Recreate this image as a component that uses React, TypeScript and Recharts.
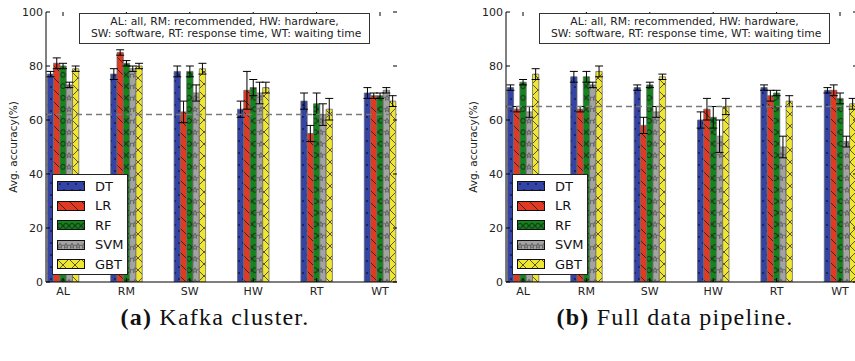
import React from 'react';
import { BarChart, Bar, XAxis, YAxis, ErrorBar, ReferenceLine, Legend } from 'recharts';

const categories = ['AL', 'RM', 'SW', 'HW', 'RT', 'WT'];
const seriesNames = ['DT', 'LR', 'RF', 'SVM', 'GBT'];
const yTicks = [0, 20, 40, 60, 80, 100];

// (a) Kafka cluster
const kafkaDT = [77, 77, 78, 64, 67, 70];
const kafkaDTErr = [1, 2, 2, 3, 3, 2];
const kafkaLR = [81, 85, 63, 71, 55, 69];
const kafkaLRErr = [2, 1, 4, 7, 3, 1];
const kafkaRF = [80, 81, 78, 72, 66, 69];
const kafkaRFErr = [1, 1, 2, 3, 4, 1];
const kafkaSVM = [73, 79, 70, 70, 62, 71];
const kafkaSVMErr = [1, 1, 3, 4, 4, 1];
const kafkaGBT = [79, 80, 79, 72, 64, 67];
const kafkaGBTErr = [1, 1, 2, 2, 4, 2];
const kafkaBaseline = 62;

// (b) Full data pipeline
const pipeDT = [72, 76, 72, 60, 72, 71];
const pipeDTErr = [1, 2, 1, 3, 1, 1];
const pipeLR = [64, 64, 58, 64, 69, 71];
const pipeLRErr = [1, 1, 3, 4, 2, 2];
const pipeRF = [74, 76, 73, 61, 70, 68];
const pipeRFErr = [1, 2, 1, 4, 1, 2];
const pipeSVM = [63, 73, 63, 54, 50, 52];
const pipeSVMErr = [2, 1, 2, 6, 4, 2];
const pipeGBT = [77, 78, 76, 65, 67, 66];
const pipeGBTErr = [2, 2, 1, 3, 2, 2];
const pipeBaseline = 65;

const annotationLine1 = 'AL: all, RM: recommended, HW: hardware,';
const annotationLine2 = '\u00a0SW: software, RT: response time, WT: waiting time';

const COLORS: Record<string, string> = {
  DT: '#3344a6',
  LR: '#e03a22',
  RF: '#12861a',
  SVM: '#a3a3a3',
  GBT: '#eee633',
};

const PLOT_LEFT = 46;
const PLOT_RIGHT = 397;
const PLOT_TOP = 12;
const PLOT_BOTTOM = 282;
const FONT = "'DejaVu Sans', sans-serif";

function buildData(vals: number[][], errs: number[][]) {
  return categories.map((cat, i) => {
    const row: Record<string, any> = { cat };
    seriesNames.forEach((s, k) => {
      row[s] = vals[k][i];
      row[s + 'Err'] = errs[k][i];
    });
    return row;
  });
}

const kafkaData = buildData(
  [kafkaDT, kafkaLR, kafkaRF, kafkaSVM, kafkaGBT],
  [kafkaDTErr, kafkaLRErr, kafkaRFErr, kafkaSVMErr, kafkaGBTErr]
);
const pipeData = buildData(
  [pipeDT, pipeLR, pipeRF, pipeSVM, pipeGBT],
  [pipeDTErr, pipeLRErr, pipeRFErr, pipeSVMErr, pipeGBTErr]
);

function starPoints(cx: number, cy: number, ro: number, ri: number) {
  const pts: string[] = [];
  for (let k = 0; k < 10; k++) {
    const r = k % 2 === 0 ? ro : ri;
    const a = (-90 + k * 36) * (Math.PI / 180);
    pts.push(`${(cx + r * Math.cos(a)).toFixed(2)},${(cy + r * Math.sin(a)).toFixed(2)}`);
  }
  return pts.join(' ');
}

const HATCH = '#1a1a1a';

function Patterns({ p }: { p: string }) {
  return (
    <defs>
      <pattern id={`${p}-DT`} patternUnits="userSpaceOnUse" width={8} height={12}>
        <rect width={8} height={12} fill={COLORS.DT} />
        <circle cx={3} cy={3} r={0.9} fill="#151535" />
        <circle cx={7} cy={9} r={0.9} fill="#151535" />
      </pattern>
      <pattern id={`${p}-LR`} patternUnits="userSpaceOnUse" width={12} height={12}>
        <rect width={12} height={12} fill={COLORS.LR} />
        <line x1={0} y1={0} x2={12} y2={12} stroke={HATCH} strokeWidth={0.8} />
        <line x1={-1} y1={11} x2={1} y2={13} stroke={HATCH} strokeWidth={0.8} />
        <line x1={11} y1={-1} x2={13} y2={1} stroke={HATCH} strokeWidth={0.8} />
      </pattern>
      <pattern id={`${p}-RF`} patternUnits="userSpaceOnUse" width={6} height={11.5}>
        <rect width={6} height={11.5} fill={COLORS.RF} />
        <circle cx={3} cy={5.75} r={2.4} fill="none" stroke={HATCH} strokeWidth={0.9} />
      </pattern>
      <pattern id={`${p}-SVM`} patternUnits="userSpaceOnUse" width={6} height={11.5}>
        <rect width={6} height={11.5} fill={COLORS.SVM} />
        <polygon points={starPoints(3, 6, 2.7, 1.1)} fill="none" stroke="#333" strokeWidth={0.6} />
      </pattern>
      <pattern id={`${p}-GBT`} patternUnits="userSpaceOnUse" width={12} height={12}>
        <rect width={12} height={12} fill={COLORS.GBT} />
        <line x1={0} y1={0} x2={12} y2={12} stroke={HATCH} strokeWidth={0.7} />
        <line x1={12} y1={0} x2={0} y2={12} stroke={HATCH} strokeWidth={0.7} />
      </pattern>
    </defs>
  );
}

function XTick(props: any) {
  const { x, payload } = props;
  return (
    <g>
      <line x1={x} x2={x} y1={PLOT_BOTTOM} y2={PLOT_BOTTOM - 4} stroke="#000" strokeWidth={1} />
      <line x1={x} x2={x} y1={PLOT_TOP} y2={PLOT_TOP + 4} stroke="#000" strokeWidth={1} />
      <text x={x} y={PLOT_BOTTOM + 13} textAnchor="middle" fontSize={11} fontFamily={FONT} fill="#222">
        {payload.value}
      </text>
    </g>
  );
}

function YTick(props: any) {
  const { y, payload } = props;
  return (
    <g>
      <line x1={PLOT_LEFT} x2={PLOT_LEFT + 4} y1={y} y2={y} stroke="#000" strokeWidth={1} />
      <line x1={PLOT_RIGHT - 4} x2={PLOT_RIGHT} y1={y} y2={y} stroke="#000" strokeWidth={1} />
      <text x={PLOT_LEFT - 3} y={y + 4} textAnchor="end" fontSize={11} fontFamily={FONT} fill="#222">
        {payload.value}
      </text>
    </g>
  );
}

function YLabel(props: any) {
  const vb = props.viewBox || {};
  const cy = vb.height ? vb.y + vb.height / 2 : (PLOT_TOP + PLOT_BOTTOM) / 2;
  const cx = 13;
  return (
    <text
      x={cx}
      y={cy}
      transform={`rotate(-90, ${cx}, ${cy})`}
      textAnchor="middle"
      dominantBaseline="central"
      fontSize={10.5}
      fontFamily={FONT}
      fill="#222"
    >
      Avg. accuracy(%)
    </text>
  );
}

function makeLegend(p: string) {
  return (props: any) => {
    const present = new Set((props.payload || []).map((e: any) => e.value));
    const names = seriesNames.filter((s) => present.size === 0 || present.has(s));
    return (
      <div
        style={{
          position: 'relative',
          width: 76,
          height: 101,
          boxSizing: 'border-box',
          border: '1px solid #222',
          background: '#fff',
          fontFamily: FONT,
        }}
      >
        {names.map((name: string, i: number) => (
          <div
            key={name}
            style={{
              position: 'absolute',
              left: 0,
              top: 1.25 + 19.5 * i,
              height: 19.5,
              display: 'flex',
              alignItems: 'center',
            }}
          >
            <svg width={28} height={10} style={{ marginLeft: 4, display: 'block' }}>
              <rect x={0.5} y={0.5} width={27} height={9} fill={`url(#${p}-${name})`} stroke="#111" strokeWidth={1} />
            </svg>
            <span style={{ marginLeft: 10, fontSize: 13, color: '#111', lineHeight: '13px' }}>{name}</span>
          </div>
        ))}
      </div>
    );
  };
}

function Panel({ p, data, baseline }: { p: string; data: any[]; baseline: number }) {
  return (
    <div style={{ position: 'relative', width: 430, height: 300 }}>
      <BarChart
        width={430}
        height={300}
        data={data}
        margin={{ top: PLOT_TOP, right: 430 - PLOT_RIGHT, bottom: 0, left: 0 }}
        barGap={0}
        barSize={6.3}
      >
        <Patterns p={p} />
        <XAxis
          dataKey="cat"
          padding={{ left: -14.7, right: -14.7 }}
          height={300 - PLOT_BOTTOM}
          tickLine={false}
          axisLine={{ stroke: '#000', strokeWidth: 1 }}
          tick={<XTick />}
          interval={0}
        />
        <XAxis
          xAxisId="top"
          orientation="top"
          dataKey="cat"
          height={0}
          tick={false}
          tickLine={false}
          axisLine={{ stroke: '#000', strokeWidth: 1 }}
        />
        <YAxis
          domain={[0, 100]}
          ticks={yTicks}
          width={PLOT_LEFT}
          tickLine={false}
          axisLine={{ stroke: '#000', strokeWidth: 1 }}
          tick={<YTick />}
          label={<YLabel />}
          allowDataOverflow
        />
        <YAxis
          yAxisId="right"
          orientation="right"
          domain={[0, 100]}
          width={0}
          tick={false}
          tickLine={false}
          axisLine={{ stroke: '#000', strokeWidth: 1 }}
        />
        {seriesNames.map((s) => (
          <Bar
            key={s}
            dataKey={s}
            name={s}
            fill={`url(#${p}-${s})`}
            stroke="#6a6a6a"
            strokeWidth={0.8}
            isAnimationActive={false}
          >
            <ErrorBar dataKey={s + 'Err'} width={4} stroke="#000" strokeWidth={1} direction="y" />
          </Bar>
        ))}
        <ReferenceLine y={baseline} stroke="#7a7a7a" strokeWidth={1.5} strokeDasharray="6 4" />
        <Legend
          layout="vertical"
          align="center"
          verticalAlign="middle"
          content={makeLegend(p)}
          wrapperStyle={{ position: 'absolute', left: 52, top: 174, width: 76, height: 101 }}
        />
      </BarChart>
      <div
        style={{
          position: 'absolute',
          left: 79,
          top: 13,
          width: 291,
          height: 31,
          boxSizing: 'border-box',
          border: '1px solid #333',
          background: '#fff',
          fontFamily: FONT,
          fontSize: 10.8,
          lineHeight: '12px',
          color: '#222',
          textAlign: 'center',
          paddingTop: 2,
          whiteSpace: 'pre',
        }}
      >
        <div>{annotationLine1}</div>
        <div>{annotationLine2}</div>
      </div>
    </div>
  );
}

const captionStyle: React.CSSProperties = {
  position: 'absolute',
  top: 304,
  fontFamily: "'Liberation Serif', 'DejaVu Serif', serif",
  fontSize: 24,
  letterSpacing: 1.2,
  color: '#111',
  whiteSpace: 'nowrap',
  textAlign: 'center',
  width: 430,
};

export default function App() {
  return (
    <div style={{ position: 'absolute', left: 0, top: 0, width: 855, height: 361, background: '#fff', overflow: 'hidden' }}>
      <div style={{ position: 'absolute', left: 0, top: 0 }}>
        <Panel p="ka" data={kafkaData} baseline={kafkaBaseline} />
      </div>
      <div style={{ position: 'absolute', left: 460, top: 0, width: 395, height: 300, overflow: 'hidden' }}>
        <Panel p="pi" data={pipeData} baseline={pipeBaseline} />
      </div>
      <div style={{ ...captionStyle, left: 0 }}>
        <b>(a)</b> Kafka cluster.
      </div>
      <div style={{ ...captionStyle, left: 460 }}>
        <b>(b)</b> Full data pipeline.
      </div>
    </div>
  );
}
